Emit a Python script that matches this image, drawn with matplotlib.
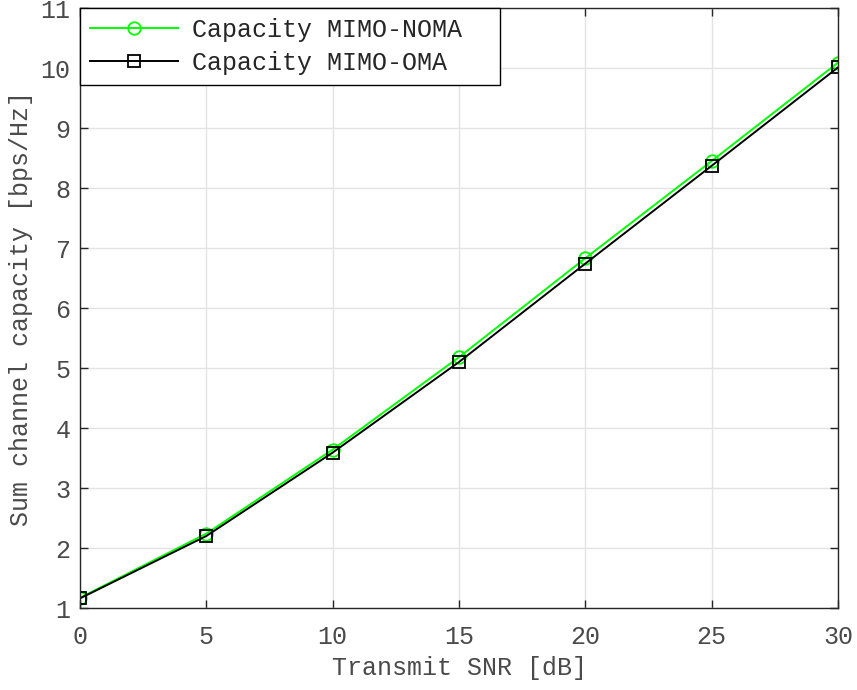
import matplotlib
matplotlib.use("Agg")
import matplotlib.pyplot as plt

snr_db = [0, 5, 10, 15, 20, 25, 30]
cap_noma = [1.17, 2.24, 3.64, 5.18, 6.83, 8.45, 10.09]
cap_oma = [1.16, 2.20, 3.59, 5.10, 6.74, 8.37, 10.01]

plt.rcParams['font.family'] = ['Liberation Mono', 'DejaVu Sans Mono']

fig = plt.figure(figsize=(8.57, 6.90), dpi=100)
ax = fig.add_axes([80/857, (690-608)/690, (838-80)/857, 600/690])

ax.plot(snr_db, cap_noma, color='#00ff00', lw=1.4, marker='o', ms=9,
        mfc='none', mec='#00ff00', mew=1.3, label='Capacity MIMO-NOMA')
ax.plot(snr_db, cap_oma, color='black', lw=1.4, marker='s', ms=8.5,
        mfc='none', mec='black', mew=1.3, label='Capacity MIMO-OMA')

ax.set_xlim(0, 30)
ax.set_ylim(1, 11)
ax.set_xticks(range(0, 31, 5))
ax.set_yticks(range(1, 12))
ax.grid(True, color='#e3e3e3', lw=1)
ax.set_axisbelow(True)

fs = 18
axcol = '#262626'
txtcol = '#4a4a4a'
for s in ax.spines.values():
    s.set_color(axcol)
    s.set_linewidth(1)
ax.tick_params(direction='in', top=True, right=True, length=6, width=1,
               colors=axcol, labelsize=fs, labelcolor=txtcol)
ax.tick_params(axis='x', pad=12)
ax.tick_params(axis='y', pad=7)

ax.set_xlabel('Transmit SNR [dB]', fontsize=fs, color=txtcol, labelpad=5)
ax.set_ylabel('Sum channel capacity [bps/Hz]', fontsize=fs, color=txtcol, labelpad=5)

leg = ax.legend(loc='upper left', bbox_to_anchor=(0, 1, (500 - 80) / 758, 0),
                mode='expand', fontsize=fs, frameon=True, fancybox=False,
                borderaxespad=0, handlelength=3.5, labelspacing=0.35,
                borderpad=0.4, handletextpad=0.6)
leg.get_frame().set_edgecolor('black')
leg.get_frame().set_linewidth(1)
leg.get_frame().set_alpha(1)
for t in leg.get_texts():
    t.set_color('#262626')

fig.savefig('out.png', dpi=100)
